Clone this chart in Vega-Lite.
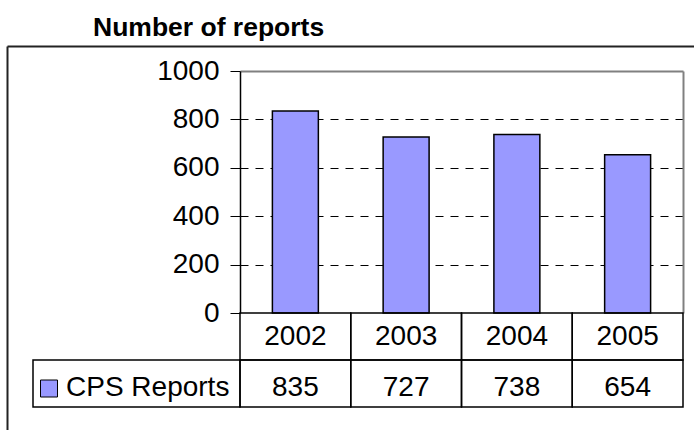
{
  "$schema": "https://vega.github.io/schema/vega-lite/v6.json",
  "autosize": "none",
  "width": 687,
  "height": 384,
  "padding": {"left": 7, "top": 46, "right": 0, "bottom": 0},
  "title": {"text": "Number of reports", "anchor": "start", "dx": 86, "dy": 27, "offset": 11, "baseline": "alphabetic", "fontSize": 26.5, "font": "Liberation Sans", "fontWeight": "bold", "color": "black"},
  "config": {
    "font": "Liberation Sans",
    "view": {"stroke": null}
  },
  "datasets": {
    "reports": [
      {"year": "2002", "reports": 835},
      {"year": "2003", "reports": 727},
      {"year": "2004", "reports": 738},
      {"year": "2005", "reports": 654}
    ]
  },
  "data": {"name": "reports"},
  "resolve": {"scale": {"x": "independent", "y": "independent"}, "axis": {"x": "independent", "y": "independent"}},
  "layer": [
    {
      "mark": {"type": "point", "opacity": 0},
      "encoding": {
        "x": {"field": "year", "type": "nominal",
              "axis": {"orient": "top", "offset": 0, "labels": false, "ticks": false, "grid": false, "title": null, "domainColor": "#222222", "domainWidth": 2}},
        "y": {"field": "reports", "type": "quantitative",
              "axis": {"orient": "left", "offset": 0, "labels": false, "ticks": false, "grid": false, "title": null, "domainColor": "#222222", "domainWidth": 2}}
      }
    },
    {
      "resolve": {"axis": {"y": "independent"}},
      "encoding": {
        "x": {"field": "year", "type": "nominal", "scale": {"range": [233, 676], "paddingInner": 0, "paddingOuter": 0},
              "axis": {"orient": "top", "offset": -25, "labels": false, "ticks": false, "grid": false, "title": null, "domainColor": "#808080", "domainWidth": 2}}
      },
      "layer": [
        {
          "mark": {"type": "bar", "width": {"band": 0.415}, "fill": "#9999FF", "stroke": "black", "strokeWidth": 1.5},
          "encoding": {
            "y": {"field": "reports", "type": "quantitative",
                  "scale": {"domain": [0, 1000], "range": [267, 25], "nice": false, "zero": true},
                  "axis": {"orient": "left", "offset": -233, "values": [0, 200, 400, 600, 800, 1000], "format": "d", "title": null,
                           "grid": true, "gridColor": "black", "gridDash": [8, 7], "gridWidth": 1,
                           "gridOpacity": {"condition": {"test": "datum.value === 0 || datum.value === 1000", "value": 0}, "value": 1},
                           "domainColor": "black", "domainWidth": 1.5, "ticks": true, "tickSize": 10, "tickColor": "black", "tickWidth": 1,
                           "labelFontSize": 28, "labelColor": "black", "labelPadding": 11, "labelFont": "Liberation Sans"}}
          }
        },
        {
          "mark": {"type": "bar", "width": {"band": 0.415}, "opacity": 0},
          "encoding": {
            "y": {"field": "reports", "type": "quantitative",
                  "axis": {"orient": "right", "offset": -11, "labels": false, "ticks": false, "grid": false, "title": null, "domainColor": "#808080", "domainWidth": 2}}
          }
        }
      ]
    },
    {
      "encoding": {
        "x": {"field": "year", "type": "nominal", "scale": {"range": [233, 676], "paddingInner": 0, "paddingOuter": 0}, "axis": null}
      },
      "layer": [
        {
          "mark": {"type": "rect", "filled": false, "stroke": "black", "strokeWidth": 1.5},
          "encoding": {"y": {"datum": "header", "type": "nominal", "scale": {"domain": ["header", "CPS Reports"], "range": [267, 361], "paddingInner": 0, "paddingOuter": 0}, "axis": null}}
        },
        {
          "mark": {"type": "rect", "filled": false, "stroke": "black", "strokeWidth": 1.5},
          "encoding": {"y": {"datum": "CPS Reports", "type": "nominal"}}
        },
        {
          "mark": {"type": "text", "fontSize": 28, "color": "black", "font": "Liberation Sans"},
          "encoding": {"y": {"datum": "header", "type": "nominal"}, "text": {"field": "year"}}
        },
        {
          "mark": {"type": "text", "fontSize": 28, "color": "black", "font": "Liberation Sans", "dy": 4},
          "encoding": {"y": {"datum": "CPS Reports", "type": "nominal"}, "text": {"field": "reports", "type": "quantitative"}}
        }
      ]
    },
    {
      "data": {"values": [{"series": "CPS Reports"}]},
      "encoding": {
        "x": {"field": "series", "type": "nominal", "scale": {"range": [26, 233], "paddingInner": 0, "paddingOuter": 0}, "axis": null},
        "y": {"field": "series", "type": "nominal", "scale": {"domain": ["header", "CPS Reports"], "range": [267, 361], "paddingInner": 0, "paddingOuter": 0}, "axis": null}
      },
      "layer": [
        {"mark": {"type": "rect", "filled": false, "stroke": "black", "strokeWidth": 1.5}},
        {
          "mark": {"type": "point", "shape": "square", "size": 289, "filled": true, "fill": "#9999FF", "stroke": "black", "strokeWidth": 1, "opacity": 1, "xOffset": 16, "yOffset": 5},
          "encoding": {"x": {"field": "series", "type": "nominal", "bandPosition": 0}}
        },
        {
          "mark": {"type": "text", "align": "left", "fontSize": 28, "color": "black", "font": "Liberation Sans", "dx": 33, "dy": 4},
          "encoding": {"x": {"field": "series", "type": "nominal", "bandPosition": 0}, "text": {"field": "series"}}
        }
      ]
    }
  ]
}
